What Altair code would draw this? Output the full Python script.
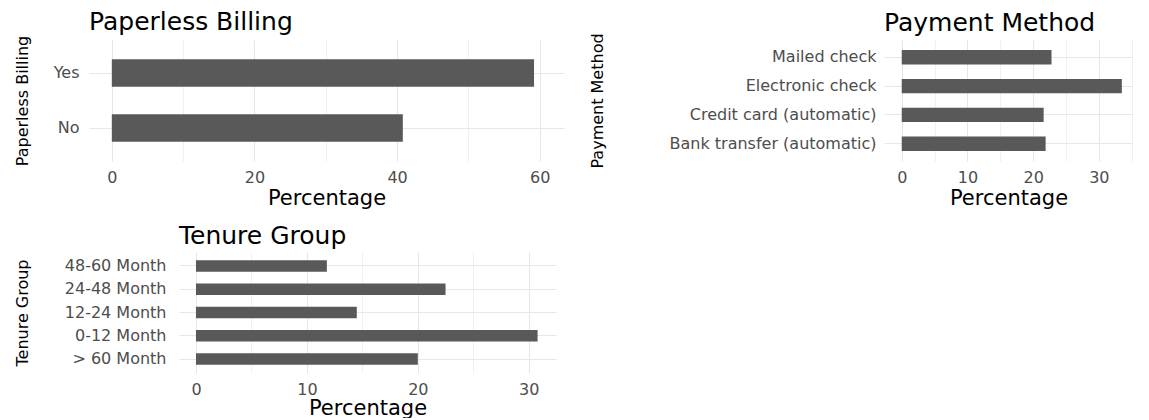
import altair as alt
import pandas as pd

# ---- data ----
pb_cats = ["Yes", "No"]
pb_vals = [59.2, 40.8]

pm_cats = ["Mailed check", "Electronic check", "Credit card (automatic)", "Bank transfer (automatic)"]
pm_vals = [22.8, 33.5, 21.6, 21.9]

tg_cats = ["48-60 Month", "24-48 Month", "12-24 Month", "0-12 Month", "> 60 Month"]
tg_vals = [11.8, 22.5, 14.5, 30.8, 20.0]

FONT = "DejaVu Sans"
BAR = "#595959"
LABEL = "#4d4d4d"


def panel(cats, vals, title, ytitle, width, xdom, xticks, label_every,
          y_extent, y_labelpad, title_offset, x_title_pad):
    df = pd.DataFrame({"cat": cats, "val": vals})
    return (
        alt.Chart(
            df,
            title=alt.Title(
                title, anchor="start", frame="group", fontSize=25, font=FONT,
                fontWeight="normal", color="#000000", baseline="alphabetic",
                offset=title_offset,
            ),
        )
        .mark_bar(color=BAR)
        .encode(
            x=alt.X(
                "val:Q",
                title="Percentage",
                scale=alt.Scale(domain=xdom, nice=False, zero=False),
                axis=alt.Axis(
                    values=xticks,
                    labelExpr=f"datum.value % {label_every} == 0 ? datum.label : ''",
                    ticks=False, tickSize=0, domain=False, grid=True,
                    gridColor={"condition": {"test": f"datum.value % {label_every} == 0", "value": "#e6e6e6"}, "value": "#f0f0f0"},
                    gridWidth=1,
                    labelFont=FONT, labelFontSize=16, labelColor=LABEL, labelPadding=8,
                    titleFont=FONT, titleFontSize=21, titleFontWeight="normal",
                    titleColor="#000000", titlePadding=x_title_pad,
                ),
            ),
            y=alt.Y(
                "cat:N",
                sort=cats,
                title=ytitle,
                scale=alt.Scale(paddingInner=0.5, paddingOuter=0.35),
                axis=alt.Axis(
                    ticks=False, tickSize=0, domain=False, grid=True, bandPosition=0.5,
                    gridColor="#e8e8e8", gridWidth=1,
                    labelFont=FONT, labelFontSize=16, labelColor=LABEL,
                    labelPadding=y_labelpad, labelLimit=400,
                    minExtent=y_extent, maxExtent=y_extent,
                    titleFont=FONT, titleFontSize=16, titleFontWeight="normal",
                    titleColor="#000000", titlePadding=0,
                ),
            ),
        )
        .properties(width=width, height=121)
    )


def spacer():
    # invisible 1px cell so that the panels are not forced onto a shared origin
    return (
        alt.Chart(pd.DataFrame({"s": [0]}))
        .mark_point(opacity=0)
        .encode(x=alt.value(0), y=alt.value(0))
        .properties(width=1, height=1)
    )


p1 = panel(pb_cats, pb_vals, "Paperless Billing", "Paperless Billing", 475,
           [-3.2, 63.4], [0, 10, 20, 30, 40, 50, 60], 20, 59, 10, -20, 2)
p2 = panel(pm_cats, pm_vals, "Payment Method", "Payment Method", 249,
           [-2.7, 35.2], [0, 5, 10, 15, 20, 25, 30, 35], 10, 279, 8, -23, 2)
p3 = panel(tg_cats, tg_vals, "Tenure Group", "Tenure Group", 377,
           [-1.53, 32.46], [0, 5, 10, 15, 20, 25, 30], 10, 149, 13, -16.5, 0)

top_row = alt.hconcat(spacer(), alt.hconcat(p1, p2, spacing=25), spacing=0)
bottom_row = alt.hconcat(spacer(), p3, spacing=0)

chart = (
    alt.vconcat(top_row, bottom_row, spacing=15)
    .properties(padding={"left": 0, "top": 2, "right": 0, "bottom": 0}, background="white")
    .configure_view(strokeWidth=0)
)

chart.save("out.html", embed_options={"renderer": "svg", "actions": False})
